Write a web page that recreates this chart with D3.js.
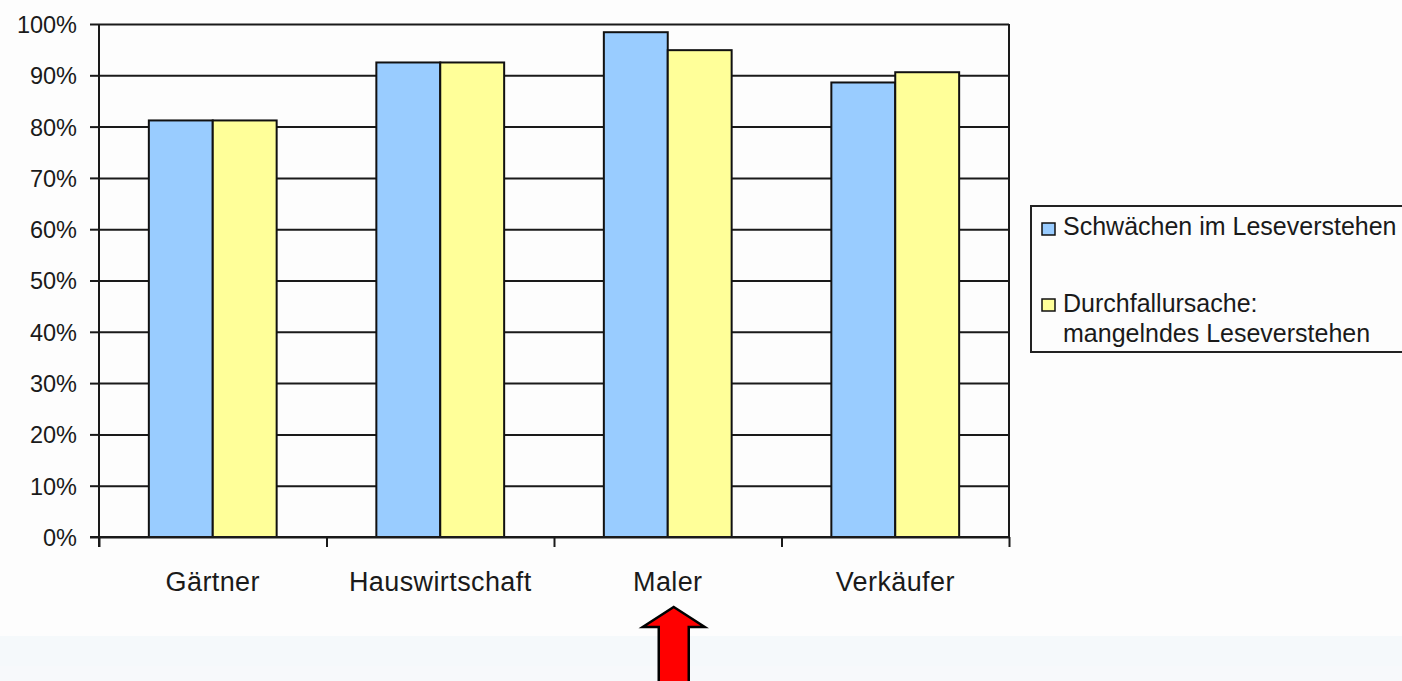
<!DOCTYPE html>
<html>
<head>
<meta charset="utf-8">
<script src="https://cdn.jsdelivr.net/npm/d3@7/dist/d3.min.js"></script>
<style>
  body{ margin:0; background:#fdfdfd; }
  text{ font-family:"Liberation Sans", Arial, sans-serif; fill:#1a1a1a; }
</style>
</head>
<body>
<div id="chart"></div>
<script>
var categories = ["Gärtner", "Hauswirtschaft", "Maler", "Verkäufer"];
var seriesNames = ["Schwächen im Leseverstehen", "Durchfallursache:\nmangelndes Leseverstehen"];
var schwaechen = [0.812, 0.925, 0.984, 0.886];
var durchfall  = [0.812, 0.925, 0.949, 0.906];
var yTicks = [0, 0.1, 0.2, 0.3, 0.4, 0.5, 0.6, 0.7, 0.8, 0.9, 1];
var colors = ["#99ccff", "#ffff99"];

var W = 1402, H = 681;
// plot area edges (don't use "top" as a global name, it is window.top)
var plot = {l: 99, r: 1009, t: 24, b: 537};

var svg = d3.select('#chart').append('svg').attr('width', W).attr('height', H);

// page background + lower band
svg.append('rect').attr('width', W).attr('height', H).attr('fill', '#fdfdfd');
svg.append('rect').attr('y', 636).attr('width', W).attr('height', 30).attr('fill', '#f5f9fb');
svg.append('rect').attr('y', 666).attr('width', W).attr('height', 15).attr('fill', '#f7f9fb');

var y = d3.scaleLinear().domain([0, 1]).range([plot.b, plot.t]);
var x = d3.scaleBand().domain(categories).range([plot.l, plot.r]).padding(0);
var xs = d3.scaleBand().domain([0, 1]).range([0, x.bandwidth()]).paddingInner(0).paddingOuter(0.78);
var xEdge = d3.scaleLinear().domain([0, categories.length]).range([plot.l, plot.r]);

// gridlines
svg.append('g').attr('class', 'grid')
  .attr('transform', 'translate(' + plot.l + ',0)')
  .call(d3.axisLeft(y).tickValues(yTicks).tickSize(-(plot.r - plot.l)).tickFormat(''))
  .call(function(g){ g.select('.domain').remove(); })
  .selectAll('line').attr('stroke', '#1a1a1a').attr('stroke-width', 2);

// right border
svg.append('line').attr('x1', plot.r).attr('x2', plot.r).attr('y1', plot.t).attr('y2', plot.b)
  .attr('stroke', '#1a1a1a').attr('stroke-width', 2);

// bars
var rows = categories.map(function(c, i){ return {cat: c, vals: [schwaechen[i], durchfall[i]]}; });
var grp = svg.selectAll('g.cat').data(rows).enter().append('g')
  .attr('class', 'cat')
  .attr('transform', function(d){ return 'translate(' + x(d.cat) + ',0)'; });
grp.selectAll('rect').data(function(d){ return d.vals.map(function(v, k){ return {k: k, v: v}; }); })
  .enter().append('rect')
  .attr('x', function(d){ return xs(d.k); })
  .attr('width', xs.bandwidth())
  .attr('y', function(d){ return y(d.v); })
  .attr('height', function(d){ return y(0) - y(d.v); })
  .attr('fill', function(d){ return colors[d.k]; })
  .attr('stroke', '#111').attr('stroke-width', 2);

// y axis
var ya = svg.append('g').attr('transform', 'translate(' + plot.l + ',0)')
  .call(d3.axisLeft(y).tickValues(yTicks).tickSize(9).tickPadding(13).tickFormat(d3.format('.0%')));
ya.select('.domain').attr('stroke', '#1a1a1a').attr('stroke-width', 2).attr('d', 'M0,' + plot.t + 'V' + (plot.b + 10));
ya.selectAll('line').attr('stroke', '#1a1a1a').attr('stroke-width', 2);
ya.selectAll('text').style('font-size', '23.5px').attr('fill', '#1a1a1a').attr('dy', '0.36em');

// x axis (ticks at category edges)
var xa = svg.append('g').attr('transform', 'translate(0,' + plot.b + ')')
  .call(d3.axisBottom(xEdge).tickValues(d3.range(categories.length + 1)).tickSize(10).tickFormat(''));
xa.select('.domain').attr('stroke', '#1a1a1a').attr('stroke-width', 2).attr('d', 'M' + (plot.l - 9) + ',0H' + plot.r);
xa.selectAll('line').attr('stroke', '#1a1a1a').attr('stroke-width', 2);

svg.selectAll('text.cat').data(categories).enter().append('text')
  .attr('class', 'cat')
  .attr('x', function(d){ return x(d) + x.bandwidth() / 2; })
  .attr('y', 591)
  .attr('text-anchor', 'middle')
  .style('font-size', '27px')
  .style('letter-spacing', '0.4px')
  .text(function(d){ return d; });

// legend
var lg = svg.append('g');
lg.append('rect').attr('x', 1031).attr('y', 206).attr('width', 420).attr('height', 146)
  .attr('fill', '#fdfdfd').attr('stroke', '#222').attr('stroke-width', 2);
var legendRows = [235, 311];
seriesNames.forEach(function(name, i){
  lg.append('rect').attr('x', 1042).attr('y', legendRows[i] - 12).attr('width', 13).attr('height', 12)
    .attr('fill', colors[i]).attr('stroke', '#111').attr('stroke-width', 1.5);
  var t = lg.append('text').attr('x', 1063).attr('y', legendRows[i] + (i ? 1 : 0)).style('font-size', '25px');
  name.split('\n').forEach(function(line, j){
    t.append('tspan').attr('x', 1063).attr('dy', j ? 30 : 0).text(line);
  });
});

// red arrow under "Maler"
var ax = x('Maler') + x.bandwidth() / 2 + 6;
var arrow = [[0, 607], [31, 627], [15, 627], [15, 690], [-15, 690], [-15, 627], [-31, 627]];
svg.append('path')
  .attr('d', d3.line()(arrow.map(function(p){ return [ax + p[0], p[1]]; })) + 'Z')
  .attr('fill', '#ff0000').attr('stroke', '#000').attr('stroke-width', 2.5);
</script>
</body>
</html>
